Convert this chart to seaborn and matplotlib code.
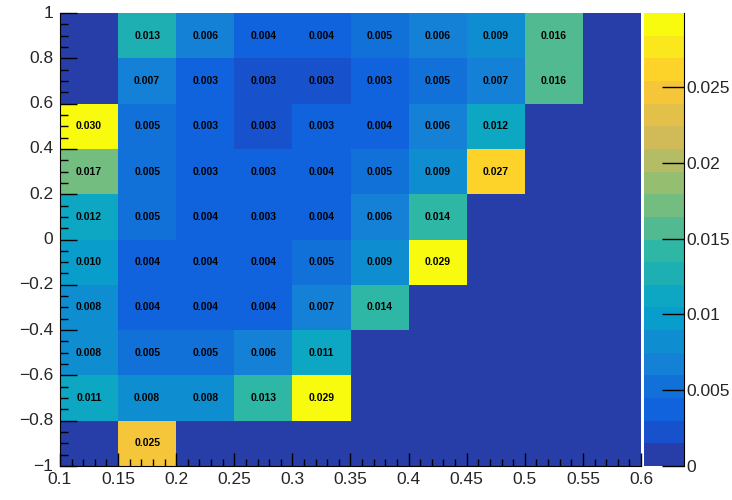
import numpy as np
import pandas as pd
import seaborn as sns
import matplotlib.pyplot as plt
from matplotlib.colors import ListedColormap, BoundaryNorm, LinearSegmentedColormap

# bin lower edges (x) and y bins listed from top row to bottom row
x_bins = [0.10, 0.15, 0.20, 0.25, 0.30, 0.35, 0.40, 0.45, 0.50, 0.55]
y_bins = [0.8, 0.6, 0.4, 0.2, 0.0, -0.2, -0.4, -0.6, -0.8, -1.0]

# bin contents, one list per y bin (0 = empty bin)
row_p08 = [0, 0.013, 0.0061, 0.004, 0.004, 0.005, 0.0061, 0.0089, 0.016, 0]
row_p06 = [0, 0.007, 0.0031, 0.0029, 0.0029, 0.0031, 0.005, 0.007, 0.016, 0]
row_p04 = [0.0299, 0.005, 0.0031, 0.0029, 0.0031, 0.004, 0.0061, 0.0118, 0, 0]
row_p02 = [0.017, 0.005, 0.0031, 0.0031, 0.004, 0.005, 0.0089, 0.0267, 0, 0]
row_p00 = [0.0118, 0.005, 0.004, 0.0031, 0.004, 0.0061, 0.014, 0, 0, 0]
row_m02 = [0.010, 0.004, 0.004, 0.004, 0.005, 0.0089, 0.029, 0, 0, 0]
row_m04 = [0.008, 0.004, 0.004, 0.004, 0.007, 0.014, 0, 0, 0, 0]
row_m06 = [0.008, 0.005, 0.005, 0.0061, 0.011, 0, 0, 0, 0, 0]
row_m08 = [0.011, 0.008, 0.008, 0.01348, 0.029, 0, 0, 0, 0, 0]
row_m10 = [0, 0.025, 0, 0, 0, 0, 0, 0, 0, 0]

df = pd.DataFrame([row_p08, row_p06, row_p04, row_p02, row_p00,
                   row_m02, row_m04, row_m06, row_m08, row_m10],
                  index=y_bins, columns=x_bins)

# ROOT kBird palette, 20 contours
stops = [0.0, 0.125, 0.25, 0.375, 0.5, 0.625, 0.75, 0.875, 1.0]
red = [0.2082, 0.0592, 0.0780, 0.0232, 0.1802, 0.5301, 0.8186, 0.9956, 0.9764]
green = [0.1664, 0.3599, 0.5041, 0.6419, 0.7178, 0.7492, 0.7328, 0.7862, 0.9832]
blue = [0.5293, 0.8684, 0.8385, 0.7914, 0.6425, 0.4662, 0.3499, 0.1968, 0.0539]
bird = LinearSegmentedColormap.from_list(
    'bird', list(zip(stops, zip(red, green, blue))), N=255)
ncont = 20
band_colors = [bird(int((i + 0.99) * 255 / ncont) / 254) for i in range(ncont)]
cmap = ListedColormap(band_colors)
zmax = df.values.max()
norm = BoundaryNorm(np.linspace(0, zmax, ncont + 1), ncont)

labels = df.map(lambda v: f'{v:.3f}' if v > 0 else '')

sns.set_style('white')
plt.rcParams['font.family'] = ['Liberation Sans', 'DejaVu Sans']

fig = plt.figure(figsize=(7.32, 5.0), dpi=100)
ax = fig.add_axes([60 / 732, 34 / 500, 581 / 732, 453 / 500])
cax = fig.add_axes([644 / 732, 34 / 500, 40 / 732, 453 / 500])

sns.heatmap(df, ax=ax, cmap=cmap, norm=norm, annot=labels.values, fmt='',
            annot_kws={'fontsize': 7.5, 'fontweight': 'bold', 'color': 'black'},
            cbar_ax=cax, cbar=True)
ax.set_axisbelow(False)
cax.set_axisbelow(False)

# numeric axes on top of the cell grid
x_ticks = np.round(np.arange(0.1, 0.601, 0.05), 2)
ax.set_xticks((x_ticks - 0.1) / 0.05)
ax.set_xticklabels([f'{v:g}' for v in x_ticks], rotation=0)
ax.set_xticks(np.arange(0, 10.01, 0.2), minor=True)

y_ticks = np.round(np.arange(-1.0, 1.001, 0.2), 1)
ax.set_yticks((1 - y_ticks) / 0.2)
ax.set_yticklabels([f'{v + 0:g}'.replace('-', '\u2212') for v in y_ticks], rotation=0)
ax.set_yticks(np.arange(0, 10.01, 0.25), minor=True)

ax.set_xlabel('')
ax.set_ylabel('')
for side in ['left', 'bottom']:
    ax.spines[side].set_visible(True)
    ax.spines[side].set_color('black')
ax.tick_params(axis='x', which='major', direction='in', length=9.5, width=1,
               labelsize=12.5, bottom=True, pad=4, color='black')
ax.tick_params(axis='x', which='minor', direction='in', length=4.7, width=1,
               bottom=True, color='black')
ax.tick_params(axis='y', which='major', direction='in', length=12, width=1,
               labelsize=12.5, left=True, pad=5, color='black')
ax.tick_params(axis='y', which='minor', direction='in', length=6, width=1,
               left=True, color='black')

cbar = ax.collections[0].colorbar
cbar.set_ticks([0, 0.005, 0.01, 0.015, 0.02, 0.025])
cbar.set_ticklabels(['0', '0.005', '0.01', '0.015', '0.02', '0.025'])
cbar.outline.set_visible(False)
cax.spines['right'].set_visible(True)
cax.spines['right'].set_color('black')
cax.tick_params(direction='in', length=16, width=1, labelsize=12.5, pad=2,
                color='black')
cax.minorticks_off()

fig.savefig('out.png', dpi=100)
